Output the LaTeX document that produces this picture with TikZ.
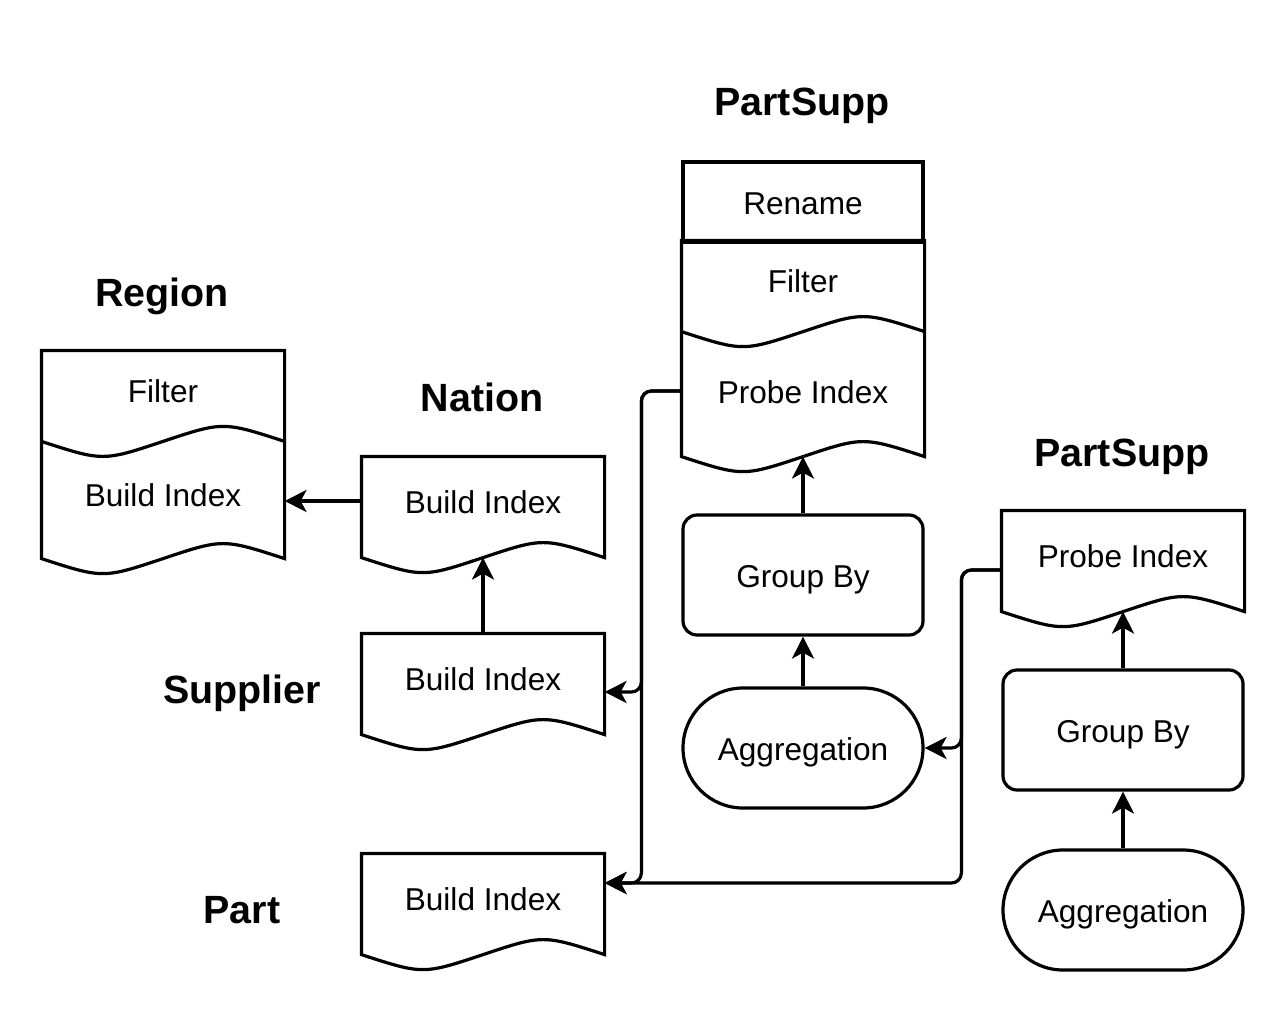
\documentclass[tikz,border=0pt]{standalone}
\usepackage{fontspec}
\setmainfont{Liberation Sans}
\usepackage{tikz}
\usetikzlibrary{positioning,calc,arrows.meta}

\begin{document}
\begin{tikzpicture}[
            x=0.5pt, y=-0.5pt,
            every path/.style={ultra thick},
            optext/.style={
                inner sep=0pt,
                text height=1.2em,
                text depth=0pt,
                font=\fontsize{15.8}{19}\selectfont
            },
            doc/.style={
                optext,
                minimum width=120pt
            },
            box/.style={
                optext,
                draw,
                minimum width=120pt,
                minimum height=40pt
            },
            proc/.style={
                box,
                rounded corners=7pt,
                minimum height=60pt
            },
            term/.style={
                box,
                rounded corners=30pt,
                minimum height=60pt
            },
            heading/.style={
                inner sep=0pt,
                text height=1.15em,
                text depth=0pt,
                font=\fontsize{19.7}{24}\selectfont\bfseries
            },
            >={Stealth[length=11pt,width=11pt,inset=3pt]},
        ]

            \useasboundingbox (0,0) rectangle (1284,1012);

            % Region
            \node[heading] (regtitle) at (162,295) {Region};
            \node[doc, minimum height=38pt] (regfilter) at (163,390) {Filter};
            \node[doc, minimum height=51pt] (regbuild) at (163,494) {Build Index};
            \draw (regfilter.north west) -- (regfilter.north east) -- ($(regbuild.south east)+(0,12)$)
                .. controls ($(regbuild.south)+(60,-8)$) .. ($(regbuild.south)+(0,12)$)
                .. controls ($(regbuild.south)+(-60,32)$) .. ($(regbuild.south west)+(0,12)$) -- cycle;
            \draw (regbuild.north west) .. controls ($(regbuild.north)+(-60,20)$) .. (regbuild.north)
                .. controls ($(regbuild.north)+(60,-20)$) .. (regbuild.north east);

            % Nation
            \node[heading] (nattitle) at (482,400) {Nation};
            \node[doc, minimum height=43pt] (nation) at (483,501) {Build Index};
            \draw (nation.north west) -- (nation.north east) -- ($(nation.south east)+(0,12)$)
                .. controls ($(nation.south)+(60,-8)$) .. ($(nation.south)+(0,12)$)
                .. controls ($(nation.south)+(-60,32)$) .. ($(nation.south west)+(0,12)$) -- cycle;

            % Supplier
            \node[heading] (suptitle) at (242,692) {Supplier};
            \node[doc, minimum height=43pt] (supplier) at (483,678) {Build Index};
            \draw (supplier.north west) -- (supplier.north east) -- ($(supplier.south east)+(0,12)$)
                .. controls ($(supplier.south)+(60,-8)$) .. ($(supplier.south)+(0,12)$)
                .. controls ($(supplier.south)+(-60,32)$) .. ($(supplier.south west)+(0,12)$) -- cycle;

            % Part
            \node[heading] (parttitle) at (242,912) {Part};
            \node[doc, minimum height=43pt] (part) at (483,898) {Build Index};
            \draw (part.north west) -- (part.north east) -- ($(part.south east)+(0,12)$)
                .. controls ($(part.south)+(60,-8)$) .. ($(part.south)+(0,12)$)
                .. controls ($(part.south)+(-60,32)$) .. ($(part.south west)+(0,12)$) -- cycle;

            % PartSupp (middle)
            \node[heading] (pstitle) at (802,104) {PartSupp};
            \node[box] (psrename) at (803,202) {Rename};
            \node[doc, minimum height=38pt] (psfilter) at (803,280) {Filter};
            \node[doc, minimum height=52pt] (psprobe) at (803,391) {Probe Index};
            \node[proc] (psgroup) at (803,575) {Group By};
            \node[term] (psagg) at (803,748) {Aggregation};
            \draw (psfilter.north west) -- (psfilter.north east) -- ($(psprobe.south east)+(0,12)$)
                .. controls ($(psprobe.south)+(60,-8)$) .. ($(psprobe.south)+(0,12)$)
                .. controls ($(psprobe.south)+(-60,32)$) .. ($(psprobe.south west)+(0,12)$) -- cycle;
            \draw ($(psfilter.south west)+(0,12)$) .. controls ($(psfilter.south)+(-60,32)$) .. ($(psfilter.south)+(0,12)$)
                .. controls ($(psfilter.south)+(60,-8)$) .. ($(psfilter.south east)+(0,12)$);

            % PartSupp (right)
            \node[heading] (ps2title) at (1122,455) {PartSupp};
            \node[doc, minimum height=43pt] (ps2probe) at (1123,555) {Probe Index};
            \node[proc] (ps2group) at (1123,730) {Group By};
            \node[term] (ps2agg) at (1123,910) {Aggregation};
            \draw (ps2probe.north west) -- (ps2probe.north east) -- ($(ps2probe.south east)+(0,12)$)
                .. controls ($(ps2probe.south)+(60,-8)$) .. ($(ps2probe.south)+(0,12)$)
                .. controls ($(ps2probe.south)+(-60,32)$) .. ($(ps2probe.south west)+(0,12)$) -- cycle;

            % connectors
            \draw[->] (nation.west) -- (nation.west -| regbuild.east);
            \draw[->] (supplier.north) -- ($(nation.south)+(0,12)$);

            \draw[->, rounded corners=5pt] (psprobe.west) -- ++(-40,0) |- ($(supplier.east)+(0,14)$);
            \draw[->, rounded corners=5pt] (psprobe.west) -- ++(-40,0) |- ($(part.east)+(0,-15)$);
            \draw[->] (psgroup.north) -- ($(psprobe.south)+(0,12)$);
            \draw[->] (psagg.north) -- (psgroup.south);

            \draw[->, rounded corners=5pt] ($(ps2probe.west)+(0,15)$) -- ++(-40,0) |- (psagg.east);
            \draw[->, rounded corners=5pt] ($(ps2probe.west)+(0,15)$) -- ++(-40,0) |- ($(part.east)+(0,-15)$);
            \draw[->] (ps2group.north) -- ($(ps2probe.south)+(0,12)$);
            \draw[->] (ps2agg.north) -- (ps2group.south);
        \end{tikzpicture}
\end{document}
